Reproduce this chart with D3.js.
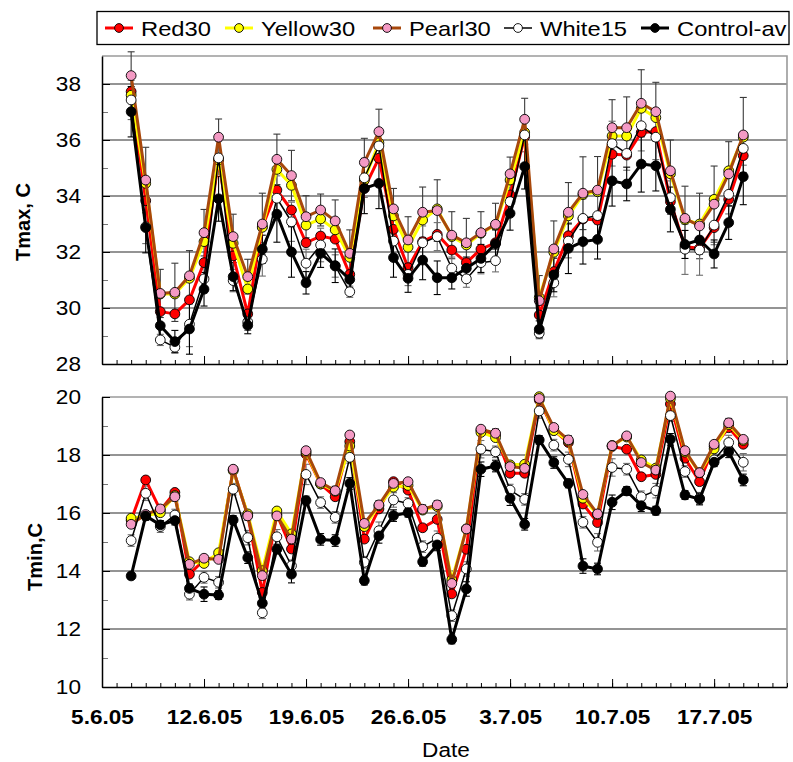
<!DOCTYPE html>
<html>
<head>
<meta charset="utf-8">
<script src="https://cdn.jsdelivr.net/npm/d3@7"></script>
<style>
  body { margin: 0; background: #fff; }
  text { font-family: Arial, "Liberation Sans", sans-serif; fill: #000; }
</style>
</head>
<body>
<svg id="chart" width="793" height="762"></svg>
<script>
// daily values, 7.6.05 .. 19.7.05
const firstDay = "7.6.05";
const seriesNames = ["Red30", "Yellow30", "Pearl30", "White15", "Control-av"];
const xTickLabels = ["5.6.05", "12.6.05", "19.6.05", "26.6.05", "3.7.05", "10.7.05", "17.7.05"];
const xEnd = "22.7.05";

const tmaxRed = [37.73,33.83,29.87,29.79,30.29,31.62,35.30,31.86,29.79,32.90,34.21,33.50,32.33,32.57,32.46,31.20,34.27,35.35,32.81,31.44,32.37,32.63,32.07,31.62,32.10,32.33,34.04,36.12,29.75,31.30,32.58,33.18,33.14,35.49,35.46,36.27,36.30,33.80,32.19,32.13,32.87,33.88,35.44];
const tmaxYellow = [37.60,34.45,30.50,30.50,31.06,32.37,35.29,32.31,30.68,32.88,34.95,34.38,32.96,33.18,32.79,31.81,34.57,35.90,33.29,32.17,33.14,33.54,32.55,32.25,32.67,32.96,34.57,36.27,30.38,31.99,33.29,34.05,34.15,36.14,36.14,37.13,36.80,34.79,33.15,33.00,33.88,34.90,36.10];
const tmaxPearl = [38.30,34.57,30.52,30.56,31.15,32.69,36.10,32.55,31.12,33.00,35.31,34.73,33.26,33.50,33.11,31.95,35.20,36.30,33.54,32.43,33.42,33.48,32.60,32.33,32.69,32.99,34.79,36.74,30.26,32.11,33.42,34.10,34.21,36.44,36.44,37.31,37.01,34.90,33.20,32.93,33.71,34.79,36.18];
const tmaxWhite = [37.43,32.90,28.86,28.60,29.42,31.04,35.36,30.98,29.50,31.74,33.92,33.08,31.60,32.25,31.50,30.58,34.65,35.79,32.39,31.20,32.33,32.55,31.42,31.04,31.62,31.69,33.80,36.18,29.10,30.90,32.39,33.20,33.30,35.87,35.52,36.51,36.10,33.94,32.10,32.07,32.96,34.06,35.70];
const tmaxCtrl = [37.01,32.87,29.37,28.80,29.25,30.67,33.90,31.12,29.38,32.10,33.35,32.00,30.90,31.95,31.51,31.02,34.27,34.45,31.80,31.06,31.71,31.08,31.08,31.42,31.77,32.29,33.38,35.05,29.24,31.18,32.13,32.37,32.45,34.54,34.43,35.14,35.08,33.52,32.27,32.43,31.93,33.05,34.69];
const tmaxErrPearl = [0.85,1.17,0.86,1.04,0.9,0.83,0.65,0.8,0.62,1.1,0.9,0.9,0.75,0.57,0.75,0.84,0.86,0.8,0.73,0.83,0.9,1.1,0.84,0.87,0.75,0.75,0.6,0.75,0.9,1.0,1.06,1.3,1.2,1.0,1.1,1.2,1.05,1.1,1.15,1.17,1.36,1.15,1.34];
const tmaxErrWhite = [0.7,0.6,0.2,0.2,0.8,0.5,0.6,0.4,0.3,0.6,0.8,0.7,0.5,0.6,0.4,0.2,0.7,0.6,0.5,0.4,0.6,0.5,0.4,0.3,0.4,0.4,0.5,0.6,0.2,0.5,0.6,0.7,0.8,0.8,0.6,0.9,0.8,0.6,0.9,0.9,0.7,0.7,0.6];
const tmaxErrCtrl = [0.9,0.9,0.5,0.4,0.9,0.6,0.8,0.5,0.3,0.5,1.0,0.9,0.4,0.5,0.6,0.3,0.9,0.9,0.7,0.5,0.7,0.6,0.4,0.4,0.5,0.5,0.6,0.8,0.3,0.6,0.9,0.8,0.7,0.9,0.6,1.0,0.9,0.8,0.5,0.5,0.5,0.6,1.0];

const tminRed = [15.75,17.14,16.10,16.71,13.89,14.38,14.50,17.49,15.93,13.26,15.95,14.76,18.03,17.00,16.56,18.46,15.10,16.14,17.08,16.79,15.49,15.78,13.21,14.75,18.85,18.70,17.37,17.37,19.90,18.85,18.43,16.31,15.67,18.29,18.20,17.25,17.33,19.76,17.89,17.08,18.30,18.94,18.37];
const tminYellow = [15.82,15.90,16.01,16.60,14.32,14.26,14.63,17.46,15.97,14.01,16.07,15.28,18.10,17.00,16.75,18.31,15.53,16.25,16.89,16.95,16.10,16.22,13.69,15.45,18.78,18.60,17.66,17.68,20.01,18.84,18.48,16.51,15.95,18.33,18.62,17.83,17.55,19.95,18.10,17.39,18.21,19.05,18.50];
const tminPearl = [15.61,15.95,16.14,16.56,14.23,14.44,14.40,17.51,15.90,13.84,15.90,15.10,18.15,17.05,16.77,18.69,15.64,16.28,17.02,17.08,16.13,16.28,13.57,15.45,18.89,18.75,17.60,17.54,19.95,18.95,18.52,16.64,15.97,18.32,18.66,17.74,17.48,20.03,18.15,17.39,18.37,19.11,18.54];
const tminWhite = [15.05,16.68,15.53,15.93,13.20,13.78,13.61,16.82,15.15,12.56,15.18,14.18,17.33,16.36,15.85,17.92,14.30,15.39,16.45,16.33,14.84,15.13,12.46,14.07,18.20,18.11,16.79,16.47,19.52,18.34,17.85,15.68,14.99,17.57,17.51,16.56,16.77,19.36,17.43,16.51,17.83,18.43,17.75];
const tminCtrl = [13.83,15.90,15.59,15.74,13.40,13.20,13.17,15.76,14.46,12.89,14.75,13.89,16.43,15.09,15.05,17.02,13.67,15.21,15.91,16.01,14.32,14.90,11.64,13.38,17.51,17.62,16.51,15.61,18.52,17.74,17.02,14.17,14.07,16.37,16.76,16.25,16.08,18.54,16.62,16.48,17.75,18.11,17.14];
const tminErrPearl = [0.1,0.1,0.1,0.15,0.1,0.1,0.1,0.1,0.15,0.1,0.1,0.1,0.1,0.1,0.15,0.1,0.1,0.15,0.1,0.1,0.15,0.15,0.1,0.1,0.1,0.15,0.1,0.1,0.1,0.1,0.15,0.1,0.1,0.1,0.1,0.1,0.1,0.1,0.1,0.1,0.1,0.15,0.1];
const tminErrWhite = [0.2,0.25,0.2,0.2,0.2,0.2,0.2,0.2,0.25,0.2,0.25,0.2,0.35,0.2,0.2,0.2,0.2,0.3,0.25,0.2,0.2,0.25,0.2,0.25,0.3,0.2,0.2,0.2,0.25,0.2,0.25,0.2,0.3,0.3,0.2,0.2,0.25,0.2,0.2,0.2,0.2,0.25,0.3];
const tminErrCtrl = [0.1,0.15,0.15,0.15,0.15,0.25,0.15,0.15,0.2,0.2,0.15,0.3,0.15,0.2,0.2,0.2,0.15,0.25,0.2,0.15,0.15,0.2,0.15,0.25,0.25,0.2,0.25,0.2,0.15,0.2,0.15,0.25,0.2,0.25,0.15,0.2,0.15,0.2,0.15,0.2,0.15,0.2,0.2];

// look of each series, same order as seriesNames
const lineColors = ["#ff0000", "#ffff00", "#a8480c", "#000000", "#000000"];
const lineWidths = [3, 3, 3, 1.5, 3];
const markerFills = ["#ff0000", "#ffff00", "#f49ac4", "#ffffff", "#000000"];

const parseDay = d3.timeParse("%d.%m.%y");
const start = parseDay(firstDay);
const days = tmaxRed.map((_, i) => d3.timeDay.offset(start, i));

const svg = d3.select("#chart");
const STRETCH = 1.13;   // text in the original is a bit wide

function stretch(sel) {
  sel.each(function () {
    const w = this.getComputedTextLength();
    d3.select(this).attr("textLength", w * STRETCH).attr("lengthAdjust", "spacingAndGlyphs");
  });
}

const x = d3.scaleTime()
  .domain([parseDay(xTickLabels[0]), parseDay(xEnd)])
  .range([102, 787]);

function drawPanel(opts) {
  const y = d3.scaleLinear().domain(opts.domain).range(opts.range);
  const g = svg.append("g");
  const [x0, x1] = x.range();
  const [yb, yt] = opts.range;

  // gridlines
  const major = d3.range(opts.domain[0] + 2, opts.domain[1], 2);
  g.selectAll(".grid").data(major).enter().append("line")
    .attr("x1", x0).attr("x2", x1)
    .attr("y1", d => y(d)).attr("y2", d => y(d))
    .attr("stroke", "#2a2a2a").attr("stroke-width", 1.2);

  // frame top & right (grey)
  g.append("path")
    .attr("d", `M${x0},${yt}H${x1}V${yb}`)
    .attr("fill", "none").attr("stroke", "#9a9a9a").attr("stroke-width", 1.6);

  // left axis: minor + major ticks inside
  const minorVals = d3.range(opts.domain[0] + 1, opts.domain[1], 2);
  g.append("g").attr("transform", `translate(${x0},0)`)
    .call(d3.axisLeft(y).tickValues(minorVals).tickSize(-6).tickFormat(""))
    .call(a => a.select(".domain").remove())
    .call(a => a.selectAll("line").attr("stroke", "#777"));
  const labelVals = d3.range(opts.domain[0], opts.domain[1] + 0.001, 2);
  const ya = g.append("g").attr("transform", `translate(${x0},0)`)
    .call(d3.axisLeft(y).tickValues(labelVals).tickSize(-8).tickSizeOuter(0).tickPadding(21));
  ya.select(".domain").attr("stroke", "#000").attr("stroke-width", 1.5);
  ya.selectAll("text").attr("font-size", 20).attr("font-family", "Arial, 'Liberation Sans', sans-serif").call(stretch);

  // bottom axis: daily minor ticks, weekly major ticks
  const allDays = d3.timeDay.range(x.domain()[0], d3.timeDay.offset(x.domain()[1], 1));
  g.append("g").attr("transform", `translate(0,${yb})`)
    .call(d3.axisBottom(x).tickValues(allDays).tickSize(-4).tickFormat(""))
    .call(a => a.select(".domain").remove());
  const weekTicks = xTickLabels.map(parseDay);
  const xa = g.append("g").attr("transform", `translate(0,${yb})`)
    .call(d3.axisBottom(x).tickValues(weekTicks).tickSize(-8).tickSizeOuter(0).tickPadding(23)
      .tickFormat((d, i) => opts.showX ? xTickLabels[i] : ""));
  xa.select(".domain").attr("stroke", "#000").attr("stroke-width", 1.5);
  if (opts.showX) {
    xa.selectAll("text").attr("font-size", 20).attr("font-weight", "bold")
      .attr("font-family", "Arial, 'Liberation Sans', sans-serif").call(stretch);
  }

  // error bars (pearl = dark, white = grey, control = black)
  const errSets = [
    [opts.values[2], opts.errs[0], "#3a3a3a"],
    [opts.values[3], opts.errs[1], "#6e6e6e"],
    [opts.values[4], opts.errs[2], "#000"]
  ];
  errSets.forEach(([vals, errs, col]) => {
    const eg = g.append("g").attr("stroke", col).attr("stroke-width", 1.1);
    vals.forEach((v, i) => {
      const cx = x(days[i]);
      eg.append("line").attr("x1", cx).attr("x2", cx).attr("y1", y(v - errs[i])).attr("y2", y(v + errs[i]));
      [v - errs[i], v + errs[i]].forEach(e => {
        eg.append("line").attr("x1", cx - 3.5).attr("x2", cx + 3.5).attr("y1", y(e)).attr("y2", y(e));
      });
    });
  });

  // series: line then markers, in legend order
  const line = d3.line().x((d, i) => x(days[i])).y(d => y(d));
  opts.values.forEach((vals, s) => {
    g.append("path").datum(vals)
      .attr("d", line)
      .attr("fill", "none")
      .attr("stroke", lineColors[s])
      .attr("stroke-width", lineWidths[s])
      .attr("stroke-linejoin", "round");
    g.selectAll(".m" + s).data(vals).enter().append("circle")
      .attr("cx", (d, i) => x(days[i]))
      .attr("cy", d => y(d))
      .attr("r", 4.9)
      .attr("fill", markerFills[s])
      .attr("stroke", "#000").attr("stroke-width", 0.9);
  });
}

drawPanel({
  domain: [28, 39], range: [364, 56],
  values: [tmaxRed, tmaxYellow, tmaxPearl, tmaxWhite, tmaxCtrl],
  errs: [tmaxErrPearl, tmaxErrWhite, tmaxErrCtrl],
  showX: false
});
drawPanel({
  domain: [10, 20], range: [687, 397],
  values: [tminRed, tminYellow, tminPearl, tminWhite, tminCtrl],
  errs: [tminErrPearl, tminErrWhite, tminErrCtrl],
  showX: true
});

// axis titles
svg.append("text").attr("transform", "translate(30,222) rotate(-90)")
  .attr("text-anchor", "middle").attr("font-size", 20).attr("font-weight", "bold")
  .text("Tmax, C");
svg.append("text").attr("transform", "translate(42,557) rotate(-90)")
  .attr("text-anchor", "middle").attr("font-size", 20).attr("font-weight", "bold")
  .text("Tmin,C");
svg.append("text").attr("x", 446).attr("y", 757)
  .attr("text-anchor", "middle").attr("font-size", 20)
  .text("Date").call(stretch);

// legend
const legend = svg.append("g");
legend.append("rect").attr("x", 97).attr("y", 11.5).attr("width", 692).attr("height", 33)
  .attr("fill", "#fff").attr("stroke", "#000").attr("stroke-width", 1.3);
const legendX = [105, 225, 373, 504, 641];
seriesNames.forEach((name, s) => {
  const lx = legendX[s];
  legend.append("line").attr("x1", lx).attr("x2", lx + 28).attr("y1", 28).attr("y2", 28)
    .attr("stroke", lineColors[s]).attr("stroke-width", lineWidths[s]);
  legend.append("circle").attr("cx", lx + 14).attr("cy", 28).attr("r", 4.4)
    .attr("fill", markerFills[s]).attr("stroke", "#000").attr("stroke-width", 0.9);
  legend.append("text").attr("x", lx + 36).attr("y", 36)
    .attr("font-size", 21).text(name).call(stretch);
});
</script>
</body>
</html>
